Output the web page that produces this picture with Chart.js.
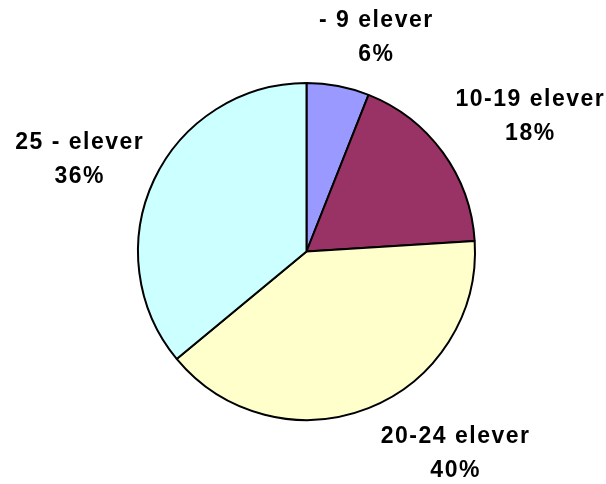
<!DOCTYPE html>
<html>
<head>
<meta charset="utf-8">
<script src="https://cdn.jsdelivr.net/npm/chart.js@4"></script>
<style>
  html, body { margin: 0; padding: 0; background: #fff; }
  #wrap { width: 606px; height: 484px; }
</style>
</head>
<body>
<div id="wrap"><canvas id="pie" width="606" height="484"></canvas></div>
<script>
'use strict';

const categories = ['- 9 elever', '10-19 elever', '20-24 elever', '25 - elever'];
const shares = [6, 18, 40, 36];
const colors = ['#9999FF', '#993366', '#FFFFCC', '#CCFFFF'];

// labels sit out along each slice's middle angle, then get nudged like the original
const labelPlugin = {
  id: 'sliceLabels',
  afterDatasetsDraw(chart, args, opts) {
    const ctx = chart.ctx;
    const arcs = chart.getDatasetMeta(0).data;
    const total = shares.reduce((a, b) => a + b, 0);
    ctx.save();
    ctx.font = 'bold 23px "Liberation Sans", Arial, sans-serif';
    ctx.letterSpacing = '1.5px';
    ctx.fillStyle = '#000';
    ctx.textAlign = 'center';
    ctx.textBaseline = 'middle';
    arcs.forEach((arc, i) => {
      const mid = (arc.startAngle + arc.endAngle) / 2;
      const r = arc.outerRadius + opts.gap;
      const nudge = opts.nudges[i];
      const x = arc.x + Math.cos(mid) * r + nudge[0];
      const y = arc.y + Math.sin(mid) * r + nudge[1];
      const pct = Math.round(shares[i] / total * 100) + '%';
      ctx.fillText(categories[i], x + 1, y - 17);
      ctx.fillText(pct, x + 1, y + 17);
    });
    ctx.restore();
  }
};

new Chart(document.getElementById('pie'), {
  type: 'pie',
  data: {
    labels: categories,
    datasets: [{
      data: shares,
      backgroundColor: colors,
      borderColor: '#000',
      borderWidth: 2,
      borderAlign: 'center'
    }]
  },
  options: {
    responsive: false,
    animation: false,
    layout: {
      padding: { left: 137, right: 130, top: 82, bottom: 63 }
    },
    plugins: {
      legend: { display: false },
      tooltip: { enabled: false },
      sliceLabels: {
        gap: 60,
        nudges: [[26, 11], [38, -1], [64, -10], [-21, 5]]
      }
    }
  },
  plugins: [labelPlugin]
});
</script>
</body>
</html>
